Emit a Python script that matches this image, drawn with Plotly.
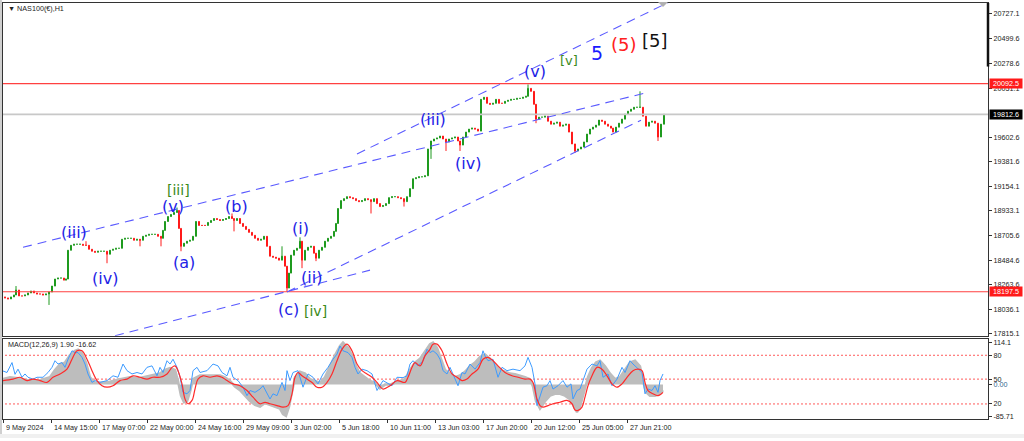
import plotly.graph_objects as go

W, H = 1024, 441

# ---------------- price data (bar index, close) ----------------
bars = [2,5,8,11,13,16,19,22,25,28,31,34,37,40,43,46,49,52,55,58,61,63,65,68,71,74,77,80,83,86,
        89,92,95,98,101,104,107,110,113,116,119,122,125,128,131,134,137,140,143,146,149,152,155,158,160,162,165,168,171,174,
        176,178,181,184,187,190,193,196,199,202,205,208,211,214,217,220,223,226,229,231,234,237,240,243,246,249,252,255,258,261,
        264,267,270,273,276,279,282,284,286,288,291,294,297,299,302,305,308,311,313,316,319,322,325,328,331,333,335,338,341,344,
        347,350,353,356,359,362,365,368,371,374,377,380,383,386,389,392,395,398,401,404,407,410,413,416,419,422,425,428,431,434,
        437,440,443,446,449,452,455,457,460,463,466,469,472,475,478,481,484,487,490,493,496,499,502,505,508,511,514,517,520,523,
        525,528,531,533,536,539,542,545,548,551,554,557,560,563,566,569,572,575,578,581,584,587,590,593,596,599,602,605,608,610,
        613,616,619,622,625,628,631,634,637,640,643,646,649,652,655,658,661]
close = [18141,18132,18150,18168,18213,18159,18159,18168,18186,18204,18186,18177,18177,18168,18177,18195,18249,18313,18322,18322,
         18303,18313,18575,18620,18630,18630,18630,18620,18620,18584,18566,18557,18566,18566,18566,18539,18575,18584,18593,18593,
         18675,18684,18684,18684,18666,18675,18666,18702,18711,18720,18720,18720,18702,18684,18756,18837,18882,18901,18919,18937,
         18774,18611,18639,18657,18666,18702,18837,18801,18801,18801,18828,18846,18864,18855,18846,18855,18864,18882,18864,18846,
         18864,18819,18792,18765,18738,18711,18684,18666,18675,18702,18611,18521,18512,18503,18485,18521,18430,18231,18367,18530,
         18575,18593,18657,18485,18575,18602,18611,18548,18503,18575,18602,18657,18684,18702,18747,18819,18955,19027,19045,19063,
         19054,19045,19027,19018,19027,19045,19036,19018,19045,19000,18973,18982,19000,19054,19063,19063,19054,19045,19018,19063,
         19136,19226,19235,19244,19244,19253,19497,19570,19588,19597,19615,19588,19561,19588,19597,19606,19570,19533,19606,19651,
         19678,19687,19678,19660,19949,19968,19913,19904,19913,19949,19913,19913,19931,19940,19949,19949,19958,19958,19968,19977,
         20049,20022,19904,19769,19787,19787,19796,19750,19723,19732,19741,19705,19714,19723,19651,19543,19479,19497,19515,19561,
         19633,19678,19696,19714,19760,19750,19723,19705,19687,19651,19696,19732,19769,19814,19841,19859,19877,19877,19877,19796,
         19705,19741,19750,19732,19606,19723,19812.6]
first_open = 18150
spike_high = {13: 18249, 83: 18657, 174: 18964, 229: 18910, 279: 18611, 297: 18693, 525: 20085, 637: 20022}
spike_low = {46: 18077, 104: 18457, 137: 18611, 158: 18611, 178: 18566, 231: 18747, 284: 18197.5, 299: 18412,
             313: 18476, 368: 18910, 401: 18973, 428: 19407, 443: 19479, 457: 19479, 533: 19732, 572: 19461, 655: 19570}

# horizontal levels
resistance = 20092.5
support = 18197.5
last_price = 19812.6

# trend lines (bar, price) pairs
line_a = ([20, 645], [18602, 20013])
line_b = ([354, 670], [19452, 20852])
line_c = ([112, 367], [17797, 18394])
line_d = ([284, 638], [18195, 19759])

# wave labels
wave_text = ["(iii)", "(iv)", "[iii]", "(v)", "(a)", "(b)", "(i)", "(ii)", "(c)", "[iv]",
             "(iii)", "(iv)", "(v)", "[v]", "5", "(5)", "[5]"]
wave_x = [71, 102, 175, 170, 181, 233, 297, 308, 285, 312, 430, 465, 532, 566, 594, 621, 652]
wave_y = [18738, 18322, 19127, 18973, 18466, 18973, 18774, 18331, 18032, 18023,
          19769, 19362, 20203, 20302, 20374, 20447, 20483]

# price axis ticks
price_ticks = [20727.1, 20499.6, 20278.6, 20051.1, 19602.6, 19381.6, 19154.1, 18933.1,
               18705.6, 18484.6, 18263.6, 18036.1, 17815.1]

# time axis
time_ticks = [0, 48, 96, 144, 192, 240, 288, 336, 384, 432, 480, 528, 576, 624]
time_labels = ["9 May 2024", "14 May 15:00", "17 May 07:00", "22 May 00:00", "24 May 16:00",
               "29 May 09:00", "3 Jun 02:00", "5 Jun 18:00", "10 Jun 11:00", "13 Jun 03:00",
               "17 Jun 20:00", "20 Jun 12:00", "25 Jun 05:00", "27 Jun 21:00"]

# ---------------- MACD pane data ----------------
hist_x = [0,7,17,27,37,47,52,57,62,67,72,75,79,83,87,92,97,107,117,127,137,147,157,162,167,172,175,178,181,184,
          187,190,197,207,217,222,227,232,237,242,247,252,257,262,267,272,277,280,283,286,289,292,297,302,307,312,317,322,327,332,
          337,340,345,349,353,357,362,367,372,377,382,387,392,397,402,407,412,417,422,427,430,434,438,442,447,452,457,462,467,472,
          477,482,487,492,497,502,507,512,517,522,527,530,533,537,542,547,552,557,562,567,571,574,577,581,585,589,593,597,602,607,
          612,617,622,627,632,637,640,643,647,652,657,660]
hist_v = [15,20,17,10,12,20,40,55,60,80,92,95,85,60,20,5,5,8,15,20,18,25,30,40,45,40,10,-30,-48,-45,
          -20,15,25,25,25,20,10,-5,-15,-30,-45,-55,-60,-50,-55,-60,-65,-80,-85,-60,-20,20,35,30,15,10,5,20,50,80,
          105,114,100,80,50,30,20,10,5,-10,0,0,5,10,15,40,60,70,90,110,114,100,70,40,30,20,25,35,50,60,
          75,82,70,55,40,35,30,28,25,20,15,-5,-45,-65,-45,-30,-25,-25,-30,-40,-60,-75,-60,-20,20,45,60,65,50,30,
          15,20,40,60,65,50,10,-20,-30,-30,-25,-15]

blue_x = [0,4,9,12,15,19,22,25,30,34,40,45,49,52,55,59,62,65,69,72,75,79,82,85,89,92,97,104,110,115,
          120,124,129,134,139,144,149,154,157,160,164,167,170,174,177,180,184,187,190,194,197,204,210,215,219,224,227,230,235,240,
          244,247,252,257,260,264,267,270,274,279,282,284,287,290,295,300,305,310,315,320,325,330,334,337,340,345,349,352,355,359,
          364,369,374,380,385,389,394,400,404,407,410,415,420,424,427,430,434,437,440,444,447,450,455,459,462,467,472,477,480,482,
          485,490,495,499,504,510,517,522,525,529,532,534,537,540,544,547,550,555,560,564,568,570,574,577,580,584,589,594,597,600,
          605,609,614,619,622,627,630,635,639,642,645,649,652,655,657,660]
blue_v = [37,33,60,28,42,20,29,20,15,20,20,33,47,65,56,60,47,69,92,87,87,74,56,29,6,11,6,11,24,20,
          56,38,29,33,29,47,51,24,47,33,65,56,69,47,20,-21,-25,-16,38,47,33,38,56,51,33,24,47,20,11,-7,
          -30,-16,-21,-12,-3,-25,-39,-25,-30,6,-16,38,11,33,38,-7,29,20,2,29,47,69,83,105,92,87,74,47,29,42,
          38,29,-16,11,2,-3,20,19,24,56,65,51,65,96,87,92,83,69,38,29,47,29,-3,33,29,56,42,60,92,78,
          65,69,20,47,38,42,38,51,74,47,2,-57,-34,-7,-3,11,-12,-3,11,-7,2,-39,-16,-12,11,42,56,51,65,20,
          29,-3,15,47,33,65,56,42,33,-25,-12,-16,-3,-21,11,29]

signal_x = [0,10,17,24,30,37,44,50,57,64,69,74,79,84,89,94,99,104,110,117,124,130,137,144,150,157,164,169,172,175,
            179,182,185,189,192,195,200,207,214,219,224,230,237,244,250,257,262,267,274,280,285,289,292,295,299,304,309,314,319,324,
            329,334,339,344,349,354,359,364,369,374,380,387,394,402,405,409,412,417,422,427,430,434,439,444,449,454,459,464,469,475,
            480,485,490,495,502,509,515,522,527,530,534,537,540,545,550,557,564,569,572,575,579,582,585,589,594,599,604,609,614,619,
            624,630,635,639,642,645,650,655,660]
signal_v = [11,15,20,11,15,11,6,20,29,42,69,92,92,69,38,11,-3,-7,-3,11,15,24,20,15,20,20,29,47,51,38,
            2,-39,-52,-43,-12,15,24,20,24,20,11,2,-3,-16,-34,-52,-48,-52,-57,-61,-57,-25,20,33,24,15,6,-7,-7,6,
            29,65,96,110,92,56,38,29,20,6,-12,-3,11,6,20,47,60,51,78,96,110,110,92,56,29,20,11,15,29,42,
            69,74,65,51,33,24,20,15,15,6,-39,-57,-61,-57,-52,-48,-43,-52,-69,-70,-61,-34,-3,24,47,42,24,2,-7,2,
            20,38,42,38,6,-16,-25,-30,-21]

macd_levels = [79.8, 15.0, -52.5]
macd_tickvals = [114.1, 79.8, 15.0, 0.0, -52.5, -85.71]
macd_ticktext = ["114.1", "80", "50", "<span style='color:#3a5f8f'>0.00</span>", "20", "-85.71"]

# ---------------- build OHLC ----------------
opens, highs, lows = [], [], []
prev = first_open
for b, c in zip(bars, close):
    o = prev
    hi = max(o, c, spike_high.get(b, c))
    lo = min(o, c, spike_low.get(b, c))
    opens.append(o); highs.append(hi); lows.append(lo)
    prev = c

GREEN = "#1e9a1e"
RED = "#ff1a1a"
LINEBLUE = "#5a5aff"
AXFONT = dict(family="Liberation Sans, Arial, sans-serif", size=7.2, color="#222")

def px_x(p):
    return p / W

def px_y(p):
    return 1 - p / H

fig = go.Figure()

# horizontal lines in main pane
for lvl, col, wd in [(last_price, "#c8c8c8", 1.6), (resistance, "#ff4040", 1.1), (support, "#ff4040", 1.1)]:
    fig.add_trace(go.Scatter(x=[-10, 1000], y=[lvl, lvl], mode="lines",
                             line=dict(color=col, width=wd), xaxis="x", yaxis="y",
                             hoverinfo="skip", showlegend=False))

fig.add_trace(go.Candlestick(
    x=bars, open=opens, high=highs, low=lows, close=close,
    increasing=dict(line=dict(color=GREEN, width=1), fillcolor=GREEN),
    decreasing=dict(line=dict(color=RED, width=1), fillcolor=RED),
    whiskerwidth=0, xaxis="x", yaxis="y", showlegend=False, hoverinfo="skip"))

for lx, ly in [line_a, line_b, line_c, line_d]:
    fig.add_trace(go.Scatter(x=lx, y=ly, mode="lines",
                             line=dict(color=LINEBLUE, width=1.1, dash="9px,6px"),
                             xaxis="x", yaxis="y", hoverinfo="skip", showlegend=False))

# MACD pane
for lvl in macd_levels:
    fig.add_trace(go.Scatter(x=[-10, 1000], y=[lvl, lvl], mode="lines",
                             line=dict(color="#ff5a5a", width=1, dash="2px,2px"),
                             xaxis="x2", yaxis="y2", hoverinfo="skip", showlegend=False))
fig.add_trace(go.Scatter(x=hist_x, y=hist_v, mode="lines", fill="tozeroy",
                         fillcolor="#bdbdbd", line=dict(color="#bdbdbd", width=2.5),
                         xaxis="x2", yaxis="y2", hoverinfo="skip", showlegend=False))
fig.add_trace(go.Scatter(x=blue_x, y=blue_v, mode="lines",
                         line=dict(color="#3d9bff", width=1),
                         xaxis="x2", yaxis="y2", hoverinfo="skip", showlegend=False))
fig.add_trace(go.Scatter(x=signal_x, y=signal_v, mode="lines", line_shape="spline",
                         line=dict(color="#ff2a2a", width=1.2),
                         xaxis="x2", yaxis="y2", hoverinfo="skip", showlegend=False))

annotations = []
label_style = {
    "(iii)": ("#2323e6", 16), "(iv)": ("#2323e6", 16), "(v)": ("#2323e6", 16),
    "(a)": ("#2323e6", 16), "(b)": ("#2323e6", 16), "(c)": ("#2323e6", 16),
    "(i)": ("#2323e6", 16), "(ii)": ("#2323e6", 16),
    "[iii]": ("#3a8a1a", 14), "[iv]": ("#3a8a1a", 14), "[v]": ("#3a8a1a", 13),
    "5": ("#1a1aff", 19), "(5)": ("#ff2020", 18), "[5]": ("#111111", 18),
}
for t, x, y in zip(wave_text, wave_x, wave_y):
    col, sz = label_style[t]
    annotations.append(dict(x=x, y=y, xref="x", yref="y", text=t, showarrow=False,
                            font=dict(family="DejaVu Sans, Verdana, sans-serif", size=sz, color=col),
                            xanchor="center", yanchor="middle"))

for tv, tl in zip(time_ticks, time_labels):
    annotations.append(dict(x=tv + 0.5, y=px_y(430), xref="x2", yref="paper", text=tl,
                            showarrow=False, xanchor="left", yanchor="middle", font=AXFONT))

for val, bg in [(resistance, "#ff1a1a"), (last_price, "#000000"), (support, "#ff1a1a")]:
    annotations.append(dict(x=px_x(989), y=val, xref="paper", yref="y", text=f"{val:.1f}",
                            showarrow=False, xanchor="left", yanchor="middle", bgcolor=bg,
                            width=32, height=9, borderpad=0, align="center",
                            font=dict(family="Liberation Sans, Arial, sans-serif", size=7.2, color="white")))

annotations.append(dict(x=px_x(6), y=px_y(9), xref="paper", yref="paper",
                        text="▼ NAS100(€),H1", showarrow=False, xanchor="left", yanchor="middle",
                        font=AXFONT))
annotations.append(dict(x=px_x(6), y=px_y(346.5), xref="paper", yref="paper",
                        text="MACD(12,26,9) 1.90 -16.62", showarrow=False, xanchor="left",
                        yanchor="middle", font=AXFONT))

shapes = [
    dict(type="rect", xref="paper", yref="paper", x0=0, x1=px_x(2), y0=0, y1=1,
         fillcolor="#cfcfcf", line=dict(width=0), layer="below"),
    dict(type="rect", xref="paper", yref="paper", x0=0, x1=1, y0=0, y1=px_y(437),
         fillcolor="#f0f0f0", line=dict(width=0), layer="below"),
    dict(type="line", xref="paper", yref="paper", x0=px_x(988), x1=px_x(988),
         y0=px_y(3), y1=px_y(67), line=dict(color="#111", width=2.5)),
    dict(type="path", xref="paper", yref="paper",
         path=f"M {px_x(658)},{px_y(2)} L {px_x(668)},{px_y(2)} L {px_x(663)},{px_y(7)} Z",
         fillcolor="#b0b0b0", line=dict(width=0)),
]

xdom = [px_x(3), px_x(988)]
fig.update_layout(
    width=W, height=H, margin=dict(l=0, r=0, t=0, b=0),
    paper_bgcolor="white", plot_bgcolor="white", showlegend=False, hovermode=False,
    xaxis=dict(domain=xdom, range=[0, 985], showticklabels=False, showgrid=False,
               zeroline=False, showline=True, mirror=True, linecolor="#333", linewidth=1,
               rangeslider=dict(visible=False), ticks="", anchor="y"),
    yaxis=dict(domain=[px_y(338), px_y(3)], range=[17797.0, 20826.6], side="right",
               tickvals=price_ticks, ticktext=[f"{v:.1f}" for v in price_ticks],
               ticks="outside", ticklen=3, tickcolor="#333", tickfont=AXFONT,
               showgrid=False, zeroline=False, showline=True, mirror=True,
               linecolor="#333", linewidth=1, anchor="x"),
    xaxis2=dict(domain=xdom, range=[0, 985], matches="x", tickvals=time_ticks,
                ticktext=["" for _ in time_ticks], ticks="outside", ticklen=3,
                tickcolor="#333", showgrid=False, zeroline=False, showline=True,
                mirror=True, linecolor="#333", linewidth=1, anchor="y2"),
    yaxis2=dict(domain=[px_y(422), px_y(341)], range=[-93.8, 124.9], side="right",
                tickvals=macd_tickvals, ticktext=macd_ticktext, ticks="outside", ticklen=3,
                tickcolor="#333", tickfont=AXFONT, showgrid=False, zeroline=False,
                showline=True, mirror=True, linecolor="#333", linewidth=1, anchor="x2"),
    annotations=annotations, shapes=shapes,
)

fig.write_html("out.html", config={"displayModeBar": False, "staticPlot": True},
               post_script="document.body.style.margin='0px';document.body.style.overflow='hidden';")
